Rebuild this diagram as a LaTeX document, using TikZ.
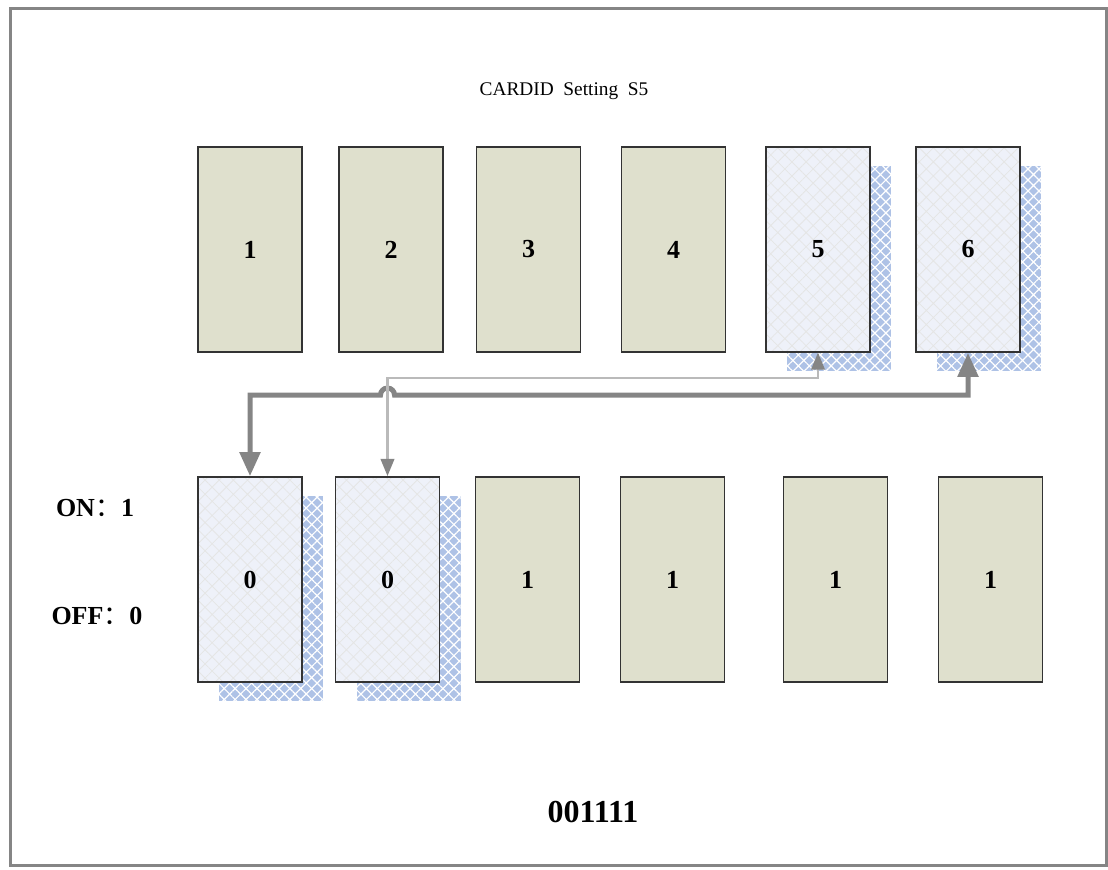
\documentclass[tikz,border=0pt]{standalone}
\usepackage{fontspec}
\setmainfont{Liberation Serif}
\newfontfamily\cjk{Noto Sans CJK SC}
\usepackage{tikz}
\usetikzlibrary{positioning,calc}
\usetikzlibrary{patterns.meta}
\usetikzlibrary{arrows.meta}
\definecolor{oliva}{HTML}{DFE0CD}
\definecolor{ghiaccio}{HTML}{EEF1F9}
\definecolor{celeste}{HTML}{AEC2E6}
\definecolor{grigio}{HTML}{858585}
\definecolor{grigiochiaro}{HTML}{BABABA}
\tikzstyle{tasto} = [rectangle, minimum width=78pt, minimum height=153.75pt, inner sep=0pt,
text centered, draw=black!80, line width=1.2pt, font=\fontsize{19.5}{23}\selectfont\bfseries]
\tikzstyle{normale} = [tasto, fill=oliva]
\tikzstyle{scelto} = [tasto, preaction={fill=ghiaccio}, pattern={Hatch[angle=45,distance=7.5pt,line width=0.6pt]}, pattern color=black!10]
\tikzstyle{ombra} = [rectangle, minimum width=78pt, minimum height=153.75pt, inner sep=0pt,
preaction={fill=celeste}, pattern={Hatch[angle=45,distance=5.8pt,line width=0.9pt]}, pattern color=white]
\tikzstyle{etichetta} = [font=\fontsize{19.5}{23}\selectfont\bfseries]
\tikzstyle{freccia} = [line width=3.75pt, draw=grigio, {Triangle[width=15pt,length=18pt]}-{Triangle[width=15pt,length=18pt]}]
\tikzstyle{freccina} = [line width=2.2pt, draw=grigiochiaro, {Triangle[width=10pt,length=13pt,color=grigio]}-{Triangle[width=10pt,length=13pt,color=grigio]}]

\begin{document}
\begin{tikzpicture}[x=0.75pt, y=-0.75pt]
				\useasboundingbox (0,0) rectangle (1108,869);
				\draw[grigio, line width=2.25pt] (10,8) rectangle (1106,865);
				\node (titolo) at (564,91) {\fontsize{14.5}{17}\selectfont CARDID~~Setting~~S5};
				% ombre
				\node[ombra] (s5) at (839,268.5) {};
				\node[ombra] (s6) at (989,268.5) {};
				\node[ombra] (t1) at (271,598.5) {};
				\node[ombra] (t2) at (408.5,598.5) {};
				% riga in alto
				\node (k1) at (250,249.5) [normale] {1};
				\node (k2) at (391,249.5) [normale] {2};
				\node (k3) at (528.5,249.5) [normale] {3};
				\node (k4) at (673.5,249.5) [normale] {4};
				\node (k5) at (818,249.5) [scelto] {5};
				\node (k6) at (968,249.5) [scelto] {6};
				% riga in basso
				\node (o1) at (250,579.5) [scelto] {0};
				\node (o2) at (387.5,579.5) [scelto] {0};
				\node (o3) at (527.5,579.5) [normale] {1};
				\node (o4) at (672.5,579.5) [normale] {1};
				\node (o5) at (835.5,579.5) [normale] {1};
				\node (o6) at (990.5,579.5) [normale] {1};
				\node[etichetta] (on) at (95,508) {ON{\cjk\mdseries ：}1};
				\node[etichetta] (off) at (97,616) {OFF{\cjk\mdseries ：}0};
				\node[font=\fontsize{24}{28}\selectfont\bfseries] (codice) at (593,812) {001111};
				% collegamenti
				\coordinate (alto) at (0,378);
				\coordinate (basso) at (0,395);
				\draw[freccia] (o1.north) -- (o1.north |- basso) -- ($(o2.north |- basso)+(-7,0)$)
					arc[start angle=180, end angle=360, radius=7] -- (k6.south |- basso) -- (k6.south);
				\draw[freccina] (o2.north) -- (o2.north |- alto) -- (k5.south |- alto) -- (k5.south);
\end{tikzpicture}
\end{document}
